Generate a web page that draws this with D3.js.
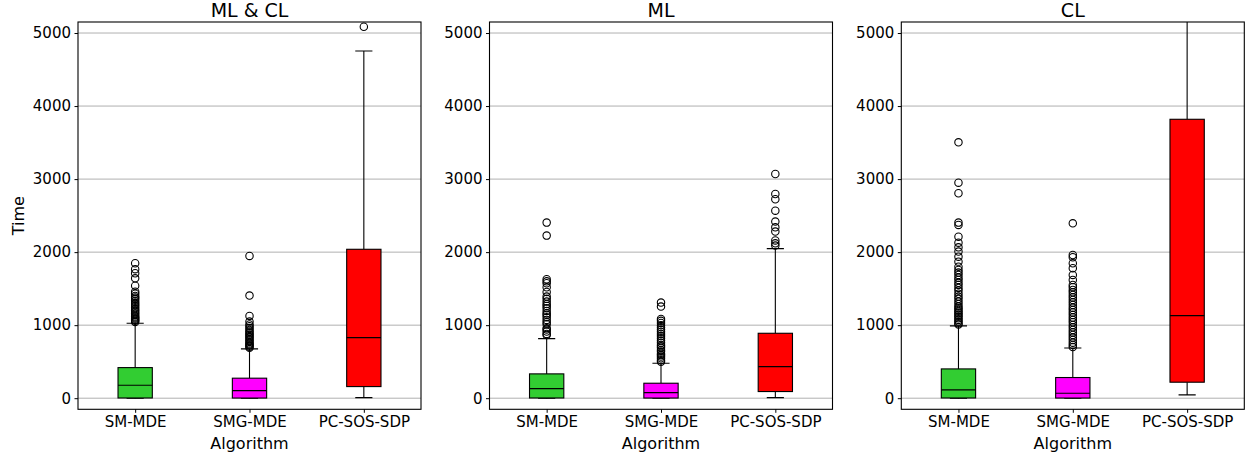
<!DOCTYPE html>
<html><head><meta charset="utf-8">
<script src="https://cdn.jsdelivr.net/npm/d3@7"></script>
<style>body{margin:0;background:#fff;} text{font-family:"DejaVu Sans",sans-serif;}</style>
</head><body><svg id="c" width="1252" height="454"></svg>
<script>
const panelTitles = ["ML & CL", "ML", "CL"];
const algorithms = ["SM-MDE", "SMG-MDE", "PC-SOS-SDP"];
const boxColors = ["#32cd32", "#ff00ff", "#ff0000"];
const yTicks = [0, 1000, 2000, 3000, 4000, 5000];
// rows = panels, columns = algorithms
const whiskerLow  = [[0, 0, 8], [0, 0, 8], [0, 0, 45]];
const q1Values    = [[3, 2, 159], [3, 2, 91], [3, 2, 219]];
const medianValues= [[178, 104, 830], [131, 77, 433], [114, 68, 1131]];
const q3Values    = [[419, 274, 2039], [333, 205, 889], [401, 283, 3819]];
const whiskerHigh = [[1027, 675, 4754], [816, 479, 2048], [990, 688, 5600]];
const outliersMLCL = [
  [1045,1060,1075,1090,1105,1120,1140,1160,1180,1200,1220,1245,1270,1290,1310,1335,1360,1380,1400,1430,1459,1541,1642,1711,1766,1848],
  [690,705,720,735,750,770,790,810,830,850,870,890,910,935,960,985,1010,1049,1127,1405,1948],
  [5086]
];
const outliersML = [
  [866,880,912,940,958,1013,1040,1072,1108,1140,1160,1195,1230,1263,1290,1323,1360,1391,1455,1519,1574,1600,1629,2226,2404],
  [500,520,547,570,590,610,640,660,690,710,730,760,790,820,850,880,910,940,970,1000,1030,1060,1085,1254,1309],
  [2090,2121,2160,2281,2340,2418,2568,2724,2796,3070]
];
const outliersCL = [
  [1010,1026,1050,1072,1095,1117,1140,1163,1185,1209,1230,1254,1290,1323,1360,1391,1430,1473,1510,1551,1580,1619,1650,1688,1720,1756,1801,1870,1938,2007,2066,2130,2212,2372,2404,2806,2951,3504],
  [700,730,760,798,830,866,900,935,970,1003,1040,1072,1105,1140,1175,1209,1240,1277,1310,1346,1380,1414,1450,1482,1520,1551,1619,1688,1779,1848,1930,1961,2395],
  []
];
const panelOutliers = [outliersMLCL, outliersML, outliersCL];

const svg = d3.select("#c");
const panelLeft = [78, 489.5, 901.3];
const panelW = 343, plotTop = 22, plotBottom = 409.3;
const y = d3.scaleLinear().domain([-152, 5151]).range([plotBottom, plotTop]);

panelTitles.forEach((title, p) => {
  const x = d3.scaleLinear().domain([0.5, 3.5]).range([panelLeft[p], panelLeft[p] + panelW]);
  const g = svg.append("g");
  const clipId = "clip" + p;
  svg.append("clipPath").attr("id", clipId).append("rect")
    .attr("x", panelLeft[p]).attr("y", plotTop).attr("width", panelW).attr("height", plotBottom - plotTop);
  g.selectAll(".grid").data(yTicks).enter().append("line")
    .attr("x1", panelLeft[p]).attr("x2", panelLeft[p] + panelW)
    .attr("y1", d => y(d)).attr("y2", d => y(d))
    .attr("stroke", "#b0b0b0").attr("stroke-width", 1);
  const pg = g.append("g").attr("clip-path", `url(#${clipId})`);
  const bw = 0.15, cw = 0.075;
  algorithms.forEach((alg, i) => {
    const cx = x(i + 1);
    const lo = whiskerLow[p][i], q1 = q1Values[p][i], md = medianValues[p][i], q3 = q3Values[p][i], hi = whiskerHigh[p][i];
    pg.append("line").attr("x1", cx).attr("x2", cx).attr("y1", y(q3)).attr("y2", y(hi)).attr("stroke", "#000").attr("stroke-width", 1.1);
    pg.append("line").attr("x1", cx).attr("x2", cx).attr("y1", y(q1)).attr("y2", y(lo)).attr("stroke", "#000").attr("stroke-width", 1.1);
    [lo, hi].forEach(v => pg.append("line").attr("x1", x(i + 1 - cw)).attr("x2", x(i + 1 + cw))
      .attr("y1", y(v)).attr("y2", y(v)).attr("stroke", "#000").attr("stroke-width", 1.1));
    pg.append("rect").attr("x", x(i + 1 - bw)).attr("width", x(i + 1 + bw) - x(i + 1 - bw))
      .attr("y", y(q3)).attr("height", y(q1) - y(q3))
      .attr("fill", boxColors[i]).attr("stroke", "#000").attr("stroke-width", 1.1);
    pg.append("line").attr("x1", x(i + 1 - bw)).attr("x2", x(i + 1 + bw)).attr("y1", y(md)).attr("y2", y(md))
      .attr("stroke", "#000").attr("stroke-width", 1.1);
    pg.selectAll(null).data(panelOutliers[p][i]).enter().append("circle")
      .attr("cx", cx).attr("cy", d => y(d)).attr("r", 3.7)
      .attr("fill", "none").attr("stroke", "#000").attr("stroke-width", 1.1);
  });
  g.append("rect").attr("x", panelLeft[p]).attr("y", plotTop).attr("width", panelW).attr("height", plotBottom - plotTop)
    .attr("fill", "none").attr("stroke", "#000").attr("stroke-width", 1.1);
  const ya = g.append("g").attr("transform", `translate(${panelLeft[p]},0)`)
    .call(d3.axisLeft(y).tickValues(yTicks).tickFormat(d3.format("d")).tickSize(3.5).tickPadding(3.5));
  const xa = g.append("g").attr("transform", `translate(0,${plotBottom})`)
    .call(d3.axisBottom(x).tickValues([1, 2, 3]).tickFormat(d => algorithms[d - 1]).tickSize(3.5).tickPadding(4));
  [ya, xa].forEach(a => {
    a.select(".domain").remove();
    a.selectAll("text").attr("font-size", 15).attr("fill", "#000").attr("font-family", "DejaVu Sans");
    a.selectAll("line").attr("stroke", "#000");
  });
  g.append("text").attr("x", panelLeft[p] + panelW / 2).attr("y", 17).attr("text-anchor", "middle")
    .attr("font-size", 19).text(title);
  g.append("text").attr("x", panelLeft[p] + panelW / 2).attr("y", 449).attr("text-anchor", "middle")
    .attr("font-size", 16).text("Algorithm");
  if (p === 0) {
    g.append("text").attr("transform", `translate(24,${(plotTop + plotBottom) / 2}) rotate(-90)`)
      .attr("text-anchor", "middle").attr("font-size", 16).text("Time");
  }
});
</script></body></html>
